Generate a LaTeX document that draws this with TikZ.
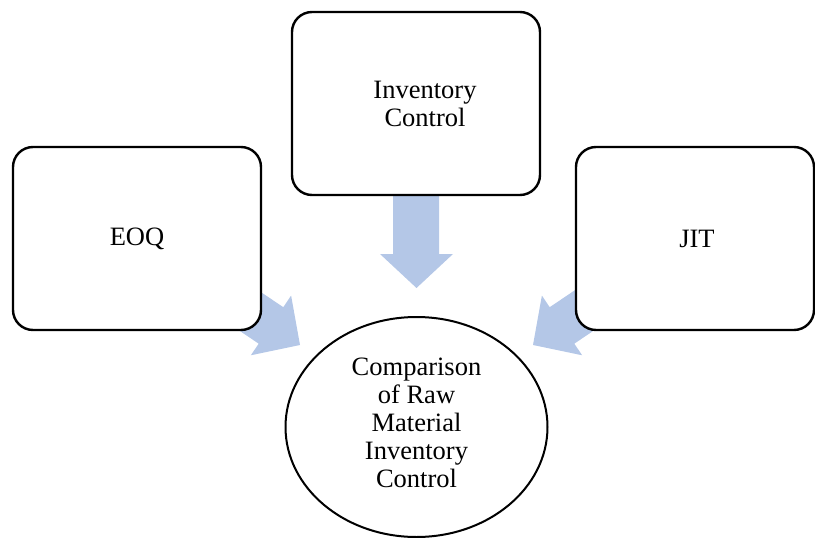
\documentclass[tikz,border=0pt]{standalone}
\usepackage{fontspec}
\setmainfont{Liberation Serif}
\usetikzlibrary{shapes.geometric}
\definecolor{arrowblue}{RGB}{180,199,231}
\begin{document}
\begin{tikzpicture}[x=1pt,y=-1pt,
  box/.style={draw=black, line width=2.4pt, rounded corners=20pt, fill=white, minimum height=183pt, inner sep=0pt},
  blockarrow/.style={fill=arrowblue, draw=none},
  lbl/.style={font=\fontsize{26.5}{28}\selectfont, align=center}]
\useasboundingbox (0,0) rectangle (815,538);
% block arrows (drawn first, boxes cover their tails)
\fill[blockarrow] (393,190) -- (393,254) -- (380,254) -- (416.5,288) -- (453,254) -- (439,254) -- (439,190) -- cycle;
\begin{scope}[shift={(300,345)}, rotate=-34]
  \fill[blockarrow] (0,0) -- (-35,36) -- (-35,22) -- (-90,22) -- (-90,-22) -- (-35,-22) -- (-35,-36) -- cycle;
\end{scope}
\begin{scope}[shift={(533,345)}, rotate=214]
  \fill[blockarrow] (0,0) -- (-35,36) -- (-35,22) -- (-90,22) -- (-90,-22) -- (-35,-22) -- (-35,-36) -- cycle;
\end{scope}
% boxes
\node[box, minimum width=248pt] (eoq) at (137,238.5) {};
\node[lbl] (eoqt) at (eoq.center) {EOQ};
\node[box, minimum width=248pt] (inv) at (416,103.5) {};
\node[lbl] (invt) at (425,104) {Inventory\\Control};
\node[box, minimum width=238pt] (jit) at (695,238.5) {};
\node[lbl] (jitt) at (697,238.5) {JIT};
% circle
\node[draw=black, line width=2pt, ellipse, fill=white, minimum width=262pt, minimum height=220pt, inner sep=0pt] (cmp) at (416.5,427) {};
\node[lbl] (cmpt) at (416.5,423) {Comparison\\of Raw\\Material\\Inventory\\Control};
\end{tikzpicture}
\end{document}
